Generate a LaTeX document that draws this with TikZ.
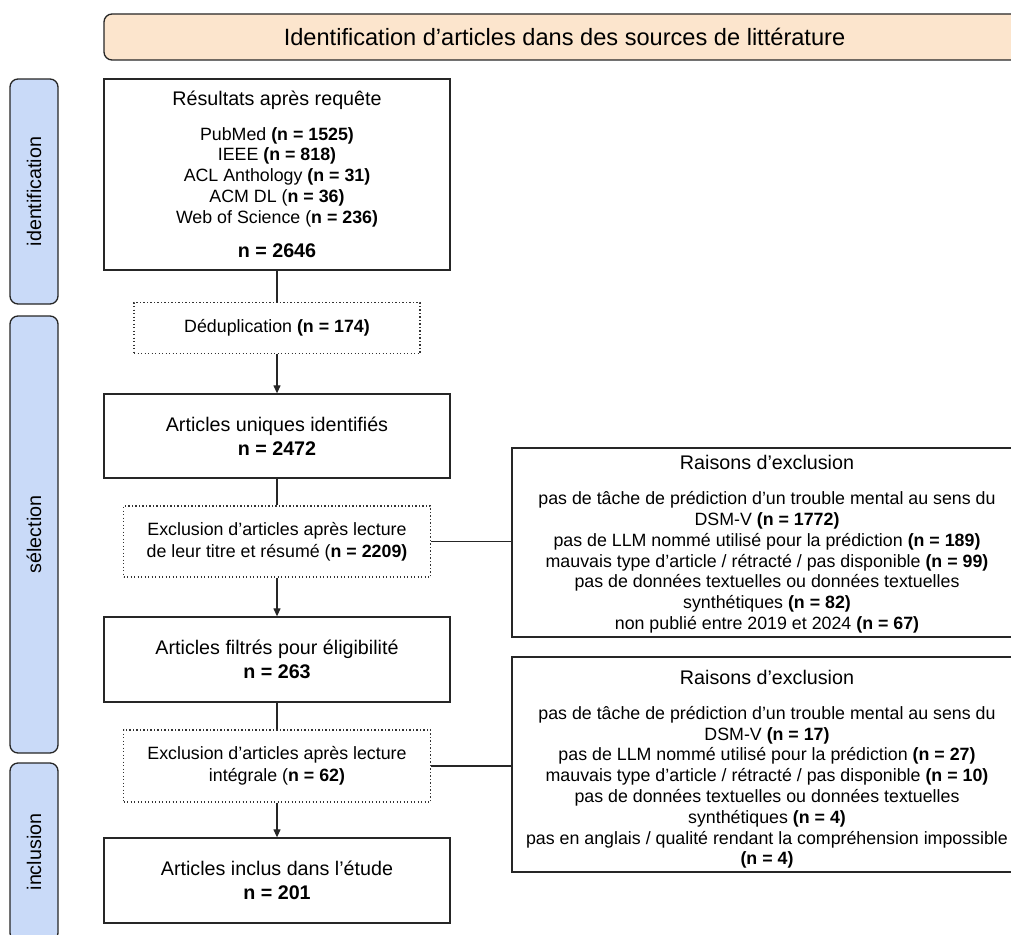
\documentclass[tikz,border=0pt]{standalone}
\usepackage{fontspec}
\setmainfont{Liberation Sans}
\usepackage{tikz}
\usetikzlibrary{arrows.meta}
\definecolor{headfill}{HTML}{FCE5CD}
\definecolor{phasefill}{HTML}{C9DAF8}

\begin{document}
\begin{tikzpicture}[x=1pt, y=-1pt]
    % Styles
    \tikzstyle{box} = [rectangle, draw=black!85, line width=1.3pt, minimum width=346pt, align=center, font=\fontsize{19.7pt}{23.6pt}\selectfont]
    \tikzstyle{filter} = [rectangle, draw=black!80, line width=1.2pt, dash pattern=on 1.2pt off 2.3pt, minimum width=307pt, align=center, font=\fontsize{17.8pt}{22pt}\selectfont]
    \tikzstyle{reason} = [rectangle, draw=black!85, line width=1.3pt, minimum width=510pt, align=center, font=\fontsize{17.8pt}{20.8pt}\selectfont]
    \tikzstyle{phase} = [rectangle, rounded corners=8pt, draw=black!85, line width=1.3pt, fill=phasefill, minimum height=48pt, rotate=90, font=\fontsize{19.7pt}{23.6pt}\selectfont]
    \tikzstyle{header} = [rectangle, rounded corners=8pt, draw=black!85, line width=1.3pt, fill=headfill, minimum width=921pt, minimum height=46pt, font=\fontsize{23.6pt}{28pt}\selectfont]
    \tikzstyle{link} = [draw=black!85, line width=1.2pt]
    \tikzstyle{arrow} = [link, -{Triangle[length=8pt, width=7pt]}]
    \newcommand{\titlesize}{\fontsize{19.7pt}{23.6pt}\selectfont}

    \clip (0,0) rectangle (1011,934);

    % Header and phases
    \node[header] (head) at (564.5,37) {Identification d’articles dans des sources de littérature};
    \node[phase, minimum width=225pt] (ident) at (34,191.5) {identification};
    \node[phase, minimum width=437pt] (select) at (34,534.5) {sélection};
    \node[phase, minimum width=178pt] (incl) at (34,852) {inclusion};

    % Nodes
    \node[box, minimum height=191pt, font=\fontsize{17.8pt}{20.7pt}\selectfont] (query) at (277,174.5) {{\titlesize Résultats après requête}\\[13.7pt]
        PubMed \textbf{(n = 1525)}\\
        IEEE \textbf{(n = 818)}\\
        ACL Anthology \textbf{(n = 31)}\\
        ACM DL (\textbf{n = 36)}\\
        Web of Science (\textbf{n = 236)}\\[13.7pt]
        {\titlesize\bfseries n = 2646}};
    \node[filter, minimum width=286pt, minimum height=51pt] (dedup) at (277,328) {Déduplication \textbf{(n = 174)}};
    \node[box, minimum height=84pt] (unique) at (277,436) {Articles uniques identifiés\\ \textbf{n = 2472}};
    \node[filter, minimum height=71pt] (screen) at (277,541.5) {Exclusion d’articles après lecture\\ de leur titre et résumé (\textbf{n = 2209)}};
    \node[box, minimum height=85pt] (eligible) at (277,659.5) {Articles filtrés pour éligibilité\\ \textbf{n = 263}};
    \node[filter, minimum height=72pt] (fulltext) at (277,766) {Exclusion d’articles après lecture\\ intégrale (\textbf{n = 62)}};
    \node[box, minimum height=85pt] (included) at (277,880.5) {Articles inclus dans l’étude\\ \textbf{n = 201}};

    % Exclusion reasons
    \node[reason, minimum height=189pt] (why1) at (767,542.5) {{\titlesize\rule{0pt}{18.2pt}Raisons d’exclusion}\\[14pt]
        pas de tâche de prédiction d’un trouble mental au sens du\\
        DSM-V \textbf{(n = 1772)}\\
        pas de LLM nommé utilisé pour la prédiction \textbf{(n = 189)}\\
        mauvais type d’article / rétracté / pas disponible \textbf{(n = 99)}\\
        pas de données textuelles ou données textuelles\\
        synthétiques \textbf{(n = 82)}\\
        non publié entre 2019 et 2024 \textbf{(n = 67)}};
    \node[reason, minimum height=211pt] (why2) at (767,764.5) {{\titlesize\rule{0pt}{24.2pt}Raisons d’exclusion}\\[14pt]
        pas de tâche de prédiction d’un trouble mental au sens du\\
        DSM-V \textbf{(n = 17)}\\
        pas de LLM nommé utilisé pour la prédiction \textbf{(n = 27)}\\
        mauvais type d’article / rétracté / pas disponible \textbf{(n = 10)}\\
        pas de données textuelles ou données textuelles\\
        synthétiques \textbf{(n = 4)}\\
        pas en anglais / qualité rendant la compréhension impossible\\
        \textbf{(n = 4)}};

    % Arrows
    \draw[link] (query) -- (dedup);
    \draw[arrow] (dedup) -- (unique);
    \draw[link] (unique) -- (screen);
    \draw[arrow] (screen) -- (eligible);
    \draw[link] (eligible) -- (fulltext);
    \draw[arrow] (fulltext) -- (included);
    \draw[link] (screen.east) -- (screen.east -| why1.west);
    \draw[link] (fulltext.east) -- (fulltext.east -| why2.west);
\end{tikzpicture}
\end{document}
